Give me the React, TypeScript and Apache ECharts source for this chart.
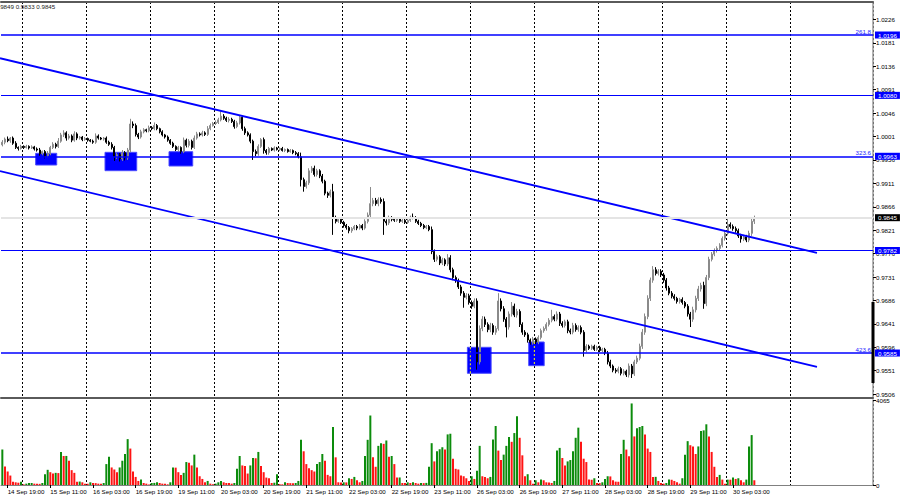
import React, { useEffect, useRef } from "react";
import * as echarts from "echarts";

// ---- data (EURUSD H1, 14 Sep 17:00 .. 30 Sep 11:00) ----
const firstOpen = 0.9985;
const closes = [
  0.9990, 0.9996, 0.9993, 0.9998, 0.9988, 0.9980, 0.9978, 0.9982, 0.9980, 0.9982,
  0.9979, 0.9981, 0.9977, 0.9975, 0.9968, 0.9972, 0.9964, 0.9968, 0.9980, 0.9986,
  0.9982, 0.9992, 1.0004, 1.0008, 0.9998, 1.0002, 0.9994, 1.0006, 0.9998, 1.0000,
  0.9995, 0.9997, 0.9994, 0.9992, 0.9990, 1.0002, 0.9998, 0.9996, 0.9998, 0.9990,
  0.9986, 0.9980, 0.9962, 0.9966, 0.9958, 0.9970, 0.9960, 0.9975, 1.0025, 1.0022,
  1.0005, 1.0000, 1.0010, 1.0014, 1.0012, 1.0018, 1.0016, 1.0022, 1.0016, 1.0010,
  1.0004, 1.0000, 0.9994, 0.9988, 0.9982, 0.9976, 0.9980, 0.9972, 0.9994, 0.9984,
  0.9992, 0.9980, 0.9998, 1.0006, 1.0004, 1.0008, 1.0005, 1.0016, 1.0022, 1.0026,
  1.0028, 1.0033, 1.0040, 1.0036, 1.0032, 1.0034, 1.0030, 1.0020, 1.0027, 1.0038,
  1.0016, 1.0008, 1.0004, 0.9992, 0.9972, 0.9968, 0.9982, 0.9995, 0.9974, 0.9970,
  0.9978, 0.9975, 0.9979, 0.9976, 0.9978, 0.9974, 0.9976, 0.9972, 0.9974, 0.9970,
  0.9968, 0.9962, 0.9918, 0.9905, 0.9912, 0.9935, 0.9940, 0.9928, 0.9935, 0.9925,
  0.9915, 0.9892, 0.9888, 0.9895, 0.9845, 0.9838, 0.9842, 0.9836, 0.9830, 0.9826,
  0.9820, 0.9824, 0.9828, 0.9825, 0.9830, 0.9825, 0.9838, 0.9850, 0.9872, 0.9878,
  0.9872, 0.9880, 0.9876, 0.9838, 0.9835, 0.9845, 0.9842, 0.9840, 0.9843, 0.9838,
  0.9840, 0.9836, 0.9840, 0.9846, 0.9845, 0.9838, 0.9834, 0.9830, 0.9826, 0.9828,
  0.9822, 0.9780, 0.9765, 0.9770, 0.9758, 0.9764, 0.9756, 0.9768, 0.9745, 0.9730,
  0.9724, 0.9712, 0.9700, 0.9692, 0.9695, 0.9682, 0.9675, 0.9685, 0.9568, 0.9632,
  0.9650, 0.9640, 0.9630, 0.9638, 0.9625, 0.9632, 0.9685, 0.9670, 0.9650, 0.9635,
  0.9660, 0.9675, 0.9658, 0.9665, 0.9640, 0.9625, 0.9620, 0.9610, 0.9605, 0.9612,
  0.9606, 0.9615, 0.9628, 0.9632, 0.9640, 0.9648, 0.9655, 0.9650, 0.9660, 0.9642,
  0.9638, 0.9645, 0.9628, 0.9625, 0.9638, 0.9630, 0.9634, 0.9625, 0.9590, 0.9598,
  0.9594, 0.9598, 0.9592, 0.9596, 0.9590, 0.9592, 0.9585, 0.9568, 0.9560, 0.9552,
  0.9550, 0.9555, 0.9546, 0.9550, 0.9543, 0.9560, 0.9545, 0.9568, 0.9575, 0.9598,
  0.9625, 0.9655, 0.9690, 0.9725, 0.9745, 0.9738, 0.9742, 0.9735, 0.9725, 0.9710,
  0.9700, 0.9694, 0.9690, 0.9684, 0.9688, 0.9682, 0.9675, 0.9660, 0.9650, 0.9668,
  0.9690, 0.9708, 0.9715, 0.9680, 0.9730, 0.9765, 0.9775, 0.9782, 0.9786, 0.9792,
  0.9805, 0.9815, 0.9832, 0.9828, 0.9824, 0.9820, 0.9810, 0.9804, 0.9808, 0.9802,
  0.9815, 0.9838, 0.9845,
];
// wick lengths in pips above max(open, close) and below min(open, close)
const upWickPips = [
  4, 3, 5, 2, 3, 4, 2, 3, 2, 3, 2, 3, 2, 3, 4, 2, 3, 5, 3, 4,
  3, 6, 4, 5, 3, 4, 3, 5, 3, 2, 2, 3, 2, 2, 3, 5, 3, 2, 2, 3,
  3, 4, 3, 4, 3, 5, 3, 4, 10, 5, 4, 3, 4, 3, 2, 4, 3, 6, 3, 2,
  3, 2, 3, 2, 3, 2, 3, 2, 5, 3, 4, 3, 5, 4, 3, 4, 3, 5, 4, 3,
  4, 4, 10, 4, 3, 4, 3, 3, 4, 3, 3, 4, 3, 3, 3, 4, 4, 3, 4, 3,
  3, 2, 3, 2, 2, 3, 2, 2, 3, 2, 3, 3, 8, 4, 4, 5, 4, 5, 4, 3,
  4, 3, 3, 4, 15, 4, 3, 3, 3, 3, 3, 3, 3, 3, 3, 3, 4, 5, 32, 5,
  5, 4, 4, 6, 4, 4, 3, 3, 3, 3, 3, 3, 3, 3, 7, 3, 3, 3, 3, 3,
  3, 6, 4, 4, 3, 4, 3, 7, 5, 4, 4, 4, 4, 4, 5, 4, 4, 5, 5, 6,
  6, 5, 4, 5, 4, 5, 15, 5, 5, 4, 5, 8, 5, 5, 4, 4, 4, 4, 3, 4,
  3, 4, 4, 4, 4, 4, 13, 4, 5, 4, 4, 4, 4, 4, 5, 4, 4, 4, 4, 4,
  3, 3, 3, 3, 3, 3, 3, 4, 4, 3, 4, 4, 3, 4, 3, 5, 4, 4, 5, 5,
  6, 6, 6, 5, 7, 5, 4, 4, 4, 4, 4, 4, 4, 3, 3, 4, 3, 4, 4, 6,
  5, 6, 5, 7, 5, 5, 4, 4, 4, 4, 4, 4, 11, 4, 4, 4, 4, 4, 4, 4,
  5, 5, 4,
];
const downWickPips = [
  3, 4, 3, 4, 3, 3, 4, 2, 3, 2, 3, 2, 3, 3, 4, 3, 5, 3, 3, 3,
  4, 3, 3, 4, 5, 3, 4, 3, 4, 3, 3, 2, 3, 2, 3, 3, 3, 2, 3, 3,
  3, 4, 8, 4, 5, 4, 5, 4, 4, 5, 4, 4, 3, 3, 3, 3, 3, 3, 3, 3,
  3, 3, 3, 3, 3, 3, 4, 4, 3, 4, 4, 4, 3, 3, 3, 3, 3, 3, 3, 2,
  3, 3, 3, 3, 3, 4, 3, 4, 3, 3, 4, 4, 3, 4, 16, 5, 4, 3, 6, 4,
  4, 2, 3, 2, 3, 2, 3, 2, 2, 3, 3, 3, 13, 10, 4, 4, 4, 4, 4, 4,
  4, 4, 5, 4, 33, 4, 3, 3, 4, 4, 5, 4, 3, 4, 3, 4, 3, 4, 4, 5,
  4, 5, 4, 26, 5, 4, 4, 3, 3, 3, 3, 3, 3, 3, 3, 3, 3, 3, 3, 3,
  3, 5, 5, 4, 4, 4, 4, 4, 5, 5, 4, 4, 5, 20, 4, 4, 5, 4, 15, 5,
  5, 5, 5, 5, 5, 5, 4, 5, 5, 20, 5, 5, 4, 5, 5, 5, 4, 5, 4, 4,
  4, 4, 4, 4, 4, 4, 4, 4, 4, 5, 4, 4, 5, 4, 4, 4, 4, 4, 12, 4,
  3, 3, 3, 3, 3, 3, 4, 5, 4, 4, 4, 4, 4, 4, 4, 5, 8, 4, 4, 4,
  5, 5, 5, 5, 5, 4, 4, 4, 5, 5, 4, 4, 4, 4, 4, 4, 4, 5, 15, 5,
  5, 5, 5, 10, 5, 5, 4, 4, 4, 4, 4, 4, 4, 4, 4, 4, 4, 7, 4, 4,
  4, 5, 5,
];
const prevVolume = 1452; // bar cut by the left edge
const volumes = [
  1694, 887, 645, 452, 161, 129, 110, 161, 32, 65,
  97, 100, 65, 60, 55, 97, 516, 726, 613, 548,
  581, 570, 1581, 1387, 1390, 1161, 710, 581, 161, 165,
  129, 65, 60, 129, 97, 90, 65, 60, 97, 1000,
  1355, 839, 742, 613, 839, 1161, 1484, 2194, 1742, 645,
  387, 194, 258, 97, 65, 20, 97, 100, 129, 97,
  65, 60, 32, 129, 839, 830, 613, 484, 581, 1097,
  1065, 936, 1452, 839, 419, 290, 129, 194, 65, 32,
  65, 129, 194, 129, 97, 90, 65, 97, 774, 1387,
  936, 903, 548, 936, 1290, 1280, 1581, 903, 613, 355,
  323, 97, 110, 516, 40, 32, 129, 97, 90, 85,
  97, 194, 2161, 1613, 1000, 807, 710, 645, 1000, 1097,
  1484, 1161, 484, 419, 2774, 1323, 129, 120, 129, 125,
  323, 290, 387, 226, 129, 194, 1387, 2161, 3323, 1323,
  871, 1871, 2000, 1968, 2129, 1355, 1387, 1000, 355, 360,
  97, 90, 129, 97, 129, 97, 65, 97, 90, 100,
  871, 2000, 1129, 1613, 1710, 1806, 1700, 2420, 2452, 1258,
  774, 742, 452, 419, 323, 194, 419, 290, 677, 1871,
  419, 387, 323, 387, 2177, 2823, 1645, 1194, 1452, 1871,
  2290, 2065, 2484, 3291, 2258, 1419, 419, 516, 226, 65,
  226, 129, 258, 226, 129, 125, 97, 194, 1645, 1774,
  1290, 936, 1129, 1194, 1613, 2258, 2742, 2065, 1258, 1097,
  258, 250, 323, 97, 90, 129, 290, 419, 410, 226,
  161, 155, 1484, 2161, 1694, 1371, 3900, 2323, 2710, 2774,
  2823, 2420, 1742, 1581, 387, 390, 194, 97, 65, 97,
  258, 250, 194, 129, 65, 323, 1452, 2097, 1903, 1839,
  1484, 1845, 2581, 2613, 2903, 2323, 1581, 871, 387, 484,
  258, 65, 258, 255, 355, 290, 323, 226, 129, 258,
  1839, 2387, 226,
];
const xTickLabels = [
  "14 Sep 19:00", "15 Sep 11:00", "16 Sep 03:00", "16 Sep 19:00", "19 Sep 11:00",
  "20 Sep 03:00", "20 Sep 19:00", "21 Sep 11:00", "22 Sep 03:00", "22 Sep 19:00",
  "23 Sep 11:00", "26 Sep 03:00", "26 Sep 19:00", "27 Sep 11:00", "28 Sep 03:00",
  "28 Sep 19:00", "29 Sep 11:00", "30 Sep 03:00",
];
const priceTicks = [
  0.9506, 0.9551, 0.9596, 0.9641, 0.9686, 0.9731, 0.9776, 0.9821, 0.9866,
  0.9911, 0.9956, 1.0001, 1.0046, 1.0091, 1.0136, 1.0181, 1.0226,
];
const volumeTicks = [0, 4065];
const levelPrices = [1.0196, 1.008, 0.9963, 0.9782, 0.9585];
const levelTags = ["261.8", "", "323.6", "", "423.6"];
const bidPrice = 0.9845;
const headerText = "0.9849 0.9833 0.9845";
// channel lines and zones: [bar index, price]
const upperChannel = [[-0.875, 1.01514], [305.5, 0.97774]];
const lowerChannel = [[-0.875, 0.99347], [305.5, 0.95582]];
const zones = [
  [12.5, 0.99687, 20.4, 0.99462],
  [38.5, 0.99706, 50.4, 0.99353],
  [62.5, 0.99718, 71.4, 0.99443],
  [174.4, 0.9596, 183.3, 0.95461],
  [197.4, 0.96062, 203.2, 0.95607],
];

const SLOTS = 327;
const PRICE_MIN = 0.94986;
const PRICE_MAX = 1.02594;
const VOLUME_MAX = 4065;
const FIRST_LABEL_BAR = 2;
const LABEL_STEP = 16;
const FIRST_DAY_LINE = 8;
const LAST_DAY_LINE = 296;
const FONT = "Liberation Sans, Arial, sans-serif";
const FS = 6.2;

export default function App() {
  const ref = useRef<HTMLDivElement>(null);
  useEffect(() => {
    if (!ref.current) return;
    const chart = echarts.init(ref.current, undefined, { renderer: "svg" });

    const cats = Array.from({ length: SLOTS }, (_, i) => String(i));
    const candleData = closes.map((c, i) => {
      const o = i === 0 ? firstOpen : closes[i - 1];
      const h = Math.max(o, c) + upWickPips[i] * 0.0001;
      const l = Math.min(o, c) - downWickPips[i] * 0.0001;
      return [o, c, +l.toFixed(5), +h.toFixed(5)];
    });
    const volData = volumes.map((v, i) => ({
      value: v,
      itemStyle: { color: v > (i === 0 ? prevVolume : volumes[i - 1]) ? "#0c8c0c" : "#ff1414" },
    }));
    const isLabelBar = (i: number) =>
      i >= FIRST_LABEL_BAR &&
      (i - FIRST_LABEL_BAR) % LABEL_STEP === 0 &&
      (i - FIRST_LABEL_BAR) / LABEL_STEP < xTickLabels.length;
    const isDayLine = (i: number) =>
      i >= FIRST_DAY_LINE && i <= LAST_DAY_LINE && (i - FIRST_DAY_LINE) % 24 === 0;
    const dashed = { show: true, interval: (i: number) => isDayLine(i), lineStyle: { color: "#000", type: [2, 2], width: 1 } };

    const levelMarks: any[] = [];
    levelPrices.forEach((p, k) => {
      const fibo = levelTags[k] !== "";
      levelMarks.push({
        yAxis: p,
        lineStyle: { color: "#0000ff", width: fibo ? 1.7 : 1, type: "solid" },
        label: {
          show: true, position: "end", distance: 2, formatter: p.toFixed(4),
          backgroundColor: "#0000ff", color: "#fff", padding: [1, 3, 0, 3],
          fontSize: FS, fontFamily: FONT,
        },
      });
      if (fibo) {
        levelMarks.push({
          yAxis: p,
          lineStyle: { color: "rgba(0,0,0,0)", width: 0 },
          label: {
            show: true, position: "insideEndTop", distance: [2, 1], formatter: levelTags[k],
            color: "#2020ff", fontSize: FS, fontFamily: FONT,
          },
        });
      }
    });

    chart.setOption({
      animation: false,
      backgroundColor: "#fff",
      textStyle: { fontFamily: FONT },
      grid: [
        { left: 1, top: 2, width: 872, height: 396 },
        { left: 1, top: 400, width: 872, height: 85 },
      ],
      xAxis: [
        {
          type: "category", gridIndex: 0, data: cats, boundaryGap: true, position: "bottom",
          axisLine: { show: true, onZero: false, lineStyle: { color: "#5a5a5a", width: 2 } },
          axisTick: { show: false }, axisLabel: { show: false }, splitLine: dashed,
        },
        {
          type: "value", gridIndex: 0, min: -0.5, max: SLOTS - 0.5, position: "top",
          axisLine: { show: true, onZero: false, lineStyle: { color: "#5a5a5a", width: 2 } },
          axisTick: { show: false }, axisLabel: { show: false }, splitLine: { show: false },
        },
        {
          type: "category", gridIndex: 1, data: cats, boundaryGap: true, position: "bottom",
          axisLine: { show: true, onZero: false, lineStyle: { color: "#808080", width: 1 } },
          axisTick: { show: true, interval: (i: number) => isLabelBar(i), alignWithLabel: true, length: 3, lineStyle: { color: "#000" } },
          axisLabel: {
            show: true, interval: (i: number) => isLabelBar(i),
            formatter: (_v: string, idx: number) => xTickLabels[(idx - FIRST_LABEL_BAR) / LABEL_STEP] ?? "",
            align: "left", fontSize: FS, color: "#000", margin: 3, fontFamily: FONT,
          },
          splitLine: dashed,
        },
      ],
      yAxis: [
        {
          type: "value", gridIndex: 0, position: "right", min: PRICE_MIN, max: PRICE_MAX,
          axisLine: { show: true, onZero: false, lineStyle: { color: "#9a9a9a", width: 1.5 } },
          axisTick: { show: true, customValues: priceTicks, length: 3, lineStyle: { color: "#000" } },
          axisLabel: {
            show: true, customValues: priceTicks, formatter: (v: number) => v.toFixed(4),
            fontSize: FS, color: "#000", margin: 3, fontFamily: FONT,
          },
          splitLine: { show: false },
        },
        {
          type: "value", gridIndex: 1, position: "right", min: 0, max: VOLUME_MAX,
          axisLine: { show: true, onZero: false, lineStyle: { color: "#9a9a9a", width: 1.5 } },
          axisTick: { show: true, customValues: volumeTicks, length: 3, lineStyle: { color: "#000" } },
          axisLabel: {
            show: true, customValues: volumeTicks, formatter: (v: number) => String(v),
            fontSize: FS, color: "#000", margin: 3, fontFamily: FONT,
          },
          splitLine: { show: false },
        },
      ],
      series: [
        {
          type: "custom", xAxisIndex: 1, yAxisIndex: 0, z: 1, silent: true,
          data: zones, encode: { x: [0, 2], y: [1, 3] },
          renderItem: (_p: any, api: any) => {
            const x1 = api.value(0), x2 = api.value(2);
            const a = api.coord([x1, api.value(1)]);
            const b = api.coord([x2, api.value(3)]);
            const children: any[] = [{
              type: "rect",
              shape: { x: a[0], y: a[1], width: b[0] - a[0], height: b[1] - a[1] },
              style: { fill: "#0000ff", stroke: "#4a4aff", lineWidth: 1 },
            }];
            for (let k = FIRST_DAY_LINE; k <= LAST_DAY_LINE; k += 24) {
              const edge = k - 0.5;
              if (edge > x1 && edge < x2) {
                const px = api.coord([edge, api.value(1)])[0];
                children.push({
                  type: "line",
                  shape: { x1: px, y1: a[1], x2: px, y2: b[1] },
                  style: { stroke: "#ffff00", lineWidth: 1, lineDash: [2, 2] },
                });
              }
            }
            return { type: "group", children };
          },
          markLine: {
            silent: true, symbol: ["none", "none"], precision: 6,
            data: [{
              yAxis: bidPrice,
              lineStyle: { color: "#e4e4e4", width: 2, type: "solid" },
              label: {
                show: true, position: "end", distance: 2, formatter: bidPrice.toFixed(4),
                backgroundColor: "#000", color: "#fff", padding: [1, 3, 0, 3], fontSize: FS, fontFamily: FONT,
              },
            }],
          },
        },
        {
          type: "candlestick", xAxisIndex: 0, yAxisIndex: 0, z: 2, barWidth: 1.5,
          data: candleData,
          itemStyle: { color: "#8a8a8a", color0: "#000", borderColor: "#8a8a8a", borderColor0: "#000", borderWidth: 1 },
        },
        {
          type: "line", xAxisIndex: 1, yAxisIndex: 0, z: 3, data: upperChannel, symbol: "none", silent: true,
          lineStyle: { color: "#0000ff", width: 1.8 },
          markLine: { silent: true, symbol: ["none", "none"], precision: 6, data: levelMarks },
        },
        {
          type: "line", xAxisIndex: 1, yAxisIndex: 0, z: 3, data: lowerChannel, symbol: "none", silent: true,
          lineStyle: { color: "#0000ff", width: 1.8 },
        },
        {
          type: "bar", xAxisIndex: 2, yAxisIndex: 1, barWidth: 2, data: volData, silent: true,
        },
      ],
      graphic: [
        { type: "text", left: -5, top: 3, style: { text: headerText, fill: "#222", fontSize: FS, fontFamily: FONT } },
        { type: "rect", z: 100, shape: { x: 871.5, y: 302, width: 3, height: 81 }, style: { fill: "#000" } },
      ],
    });
    return () => chart.dispose();
  }, []);
  return <div ref={ref} style={{ position: "fixed", left: 0, top: 0, width: 900, height: 500 }} />;
}
